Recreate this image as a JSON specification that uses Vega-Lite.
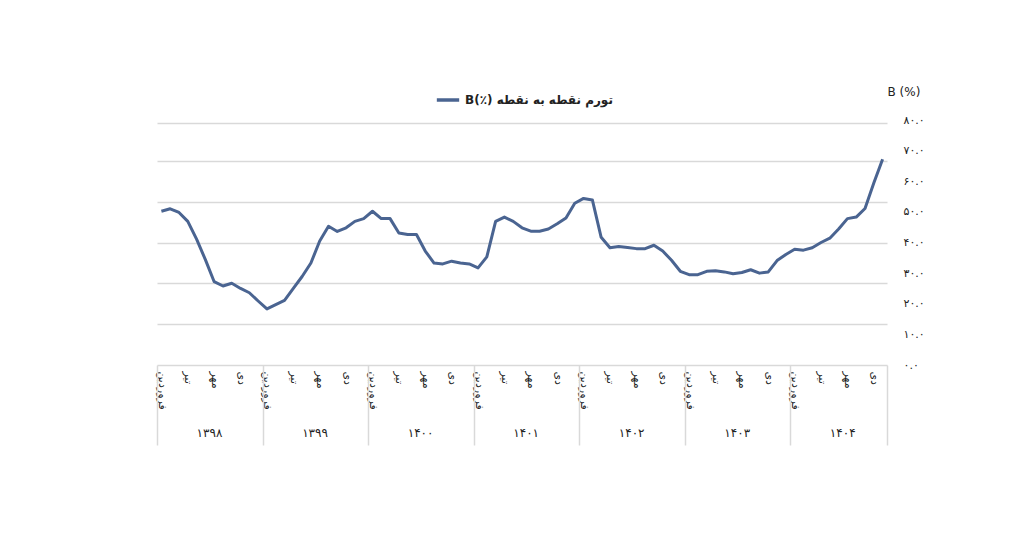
{
"$schema":"https://vega.github.io/schema/vega-lite/v6.json",
"width":730,"height":245,"autosize":"none",
"padding":{"left":157,"top":120,"right":137,"bottom":176},
"background":"white",
"config":{"view":{"stroke":null},"font":"DejaVu Sans"},
"data":{"values":[
{"i":0,"v":50.2},{"i":1,"v":51.0},{"i":2,"v":49.8},{"i":3,"v":46.9},{"i":4,"v":41.1},{"i":5,"v":34.4},{"i":6,"v":27.2},{"i":7,"v":25.8},{"i":8,"v":26.7},{"i":9,"v":25.0},{"i":10,"v":23.6},{"i":11,"v":20.9},
{"i":12,"v":18.3},{"i":13,"v":19.7},{"i":14,"v":21.1},{"i":15,"v":25.0},{"i":16,"v":28.9},{"i":17,"v":33.3},{"i":18,"v":40.5},{"i":19,"v":45.3},{"i":20,"v":43.6},{"i":21,"v":44.8},{"i":22,"v":46.9},{"i":23,"v":47.8},
{"i":24,"v":50.2},{"i":25,"v":47.8},{"i":26,"v":47.8},{"i":27,"v":43.1},{"i":28,"v":42.6},{"i":29,"v":42.6},{"i":30,"v":37.2},{"i":31,"v":33.3},{"i":32,"v":33.0},{"i":33,"v":33.9},{"i":34,"v":33.3},{"i":35,"v":33.0},
{"i":36,"v":31.7},{"i":37,"v":35.3},{"i":38,"v":46.9},{"i":39,"v":48.3},{"i":40,"v":46.9},{"i":41,"v":44.8},{"i":42,"v":43.7},{"i":43,"v":43.7},{"i":44,"v":44.4},{"i":45,"v":46.1},{"i":46,"v":48.0},{"i":47,"v":52.8},
{"i":48,"v":54.4},{"i":49,"v":53.9},{"i":50,"v":41.7},{"i":51,"v":38.3},{"i":52,"v":38.7},{"i":53,"v":38.4},{"i":54,"v":38.0},{"i":55,"v":38.0},{"i":56,"v":39.1},{"i":57,"v":37.2},{"i":58,"v":34.2},{"i":59,"v":30.6},
{"i":60,"v":29.5},{"i":61,"v":29.5},{"i":62,"v":30.6},{"i":63,"v":30.8},{"i":64,"v":30.4},{"i":65,"v":29.8},{"i":66,"v":30.2},{"i":67,"v":31.1},{"i":68,"v":30.0},{"i":69,"v":30.4},{"i":70,"v":34.1},{"i":71,"v":36.1},
{"i":72,"v":37.8},{"i":73,"v":37.5},{"i":74,"v":38.3},{"i":75,"v":40.0},{"i":76,"v":41.4},{"i":77,"v":44.4},{"i":78,"v":47.8},{"i":79,"v":48.3},{"i":80,"v":51.1},{"i":81,"v":59.4},{"i":82,"v":67.2}
]},
"layer":[
{"mark":{"type":"line","strokeWidth":3,"strokeJoin":"round"},
 "encoding":{
  "x":{"field":"i","type":"quantitative","scale":{"domain":[-0.5,82.5],"nice":false,"zero":false},
   "axis":{"orient":"bottom","title":null,"grid":false,"ticks":false,"domain":true,"domainColor":"#d9d9d9","domainWidth":1.5,
    "values":[0,3,6,9,12,15,18,21,24,27,30,33,36,39,42,45,48,51,54,57,60,63,66,69,72,75,78,81],
    "labelExpr":"datum.value % 12 == 0 ? 'فروردین' : (datum.value % 12 == 3 ? 'تیر' : (datum.value % 12 == 6 ? 'مهر' : 'دی'))",
    "labelAngle":90,"labelAlign":"left","labelBaseline":"middle","labelPadding":6,"labelFontSize":11,"labelColor":"#222","labelOverlap":false,"labelFlush":false}},
  "y":{"field":"v","type":"quantitative","scale":{"domain":[0,80],"nice":false},
   "axis":{"orient":"right","title":"B (%)","titleAngle":0,"titleX":0,"titleY":-22,"titleAlign":"left","titleFontWeight":"normal","titleFontSize":12,"titleColor":"#222",
    "values":[0,10,20,30,40,50,60,70,80],"grid":false,"ticks":false,"domain":false,"labelPadding":16,"labelFontSize":11,"labelColor":"#222",
    "labelExpr":"replace(replace(replace(replace(replace(replace(replace(replace(replace(replace(format(datum.value,'.1f'),/0/g,'۰'),/1/g,'۱'),/2/g,'۲'),/3/g,'۳'),/4/g,'۴'),/5/g,'۵'),/6/g,'۶'),/7/g,'۷'),/8/g,'۸'),/9/g,'۹')"}},
  "color":{"datum":"B(٪) تورم نقطه به نقطه","type":"nominal","scale":{"range":["#4a6491"]},
   "legend":{"title":null,"orient":"none","legendX":278,"legendY":-33,"symbolType":"stroke","symbolStrokeWidth":3.5,"symbolSize":500,"labelFontSize":12,"labelFontWeight":"bold","labelColor":"#222","labelLimit":400}}
 }},
{"mark":{"type":"line","strokeOpacity":0},
 "encoding":{
  "x":{"field":"i","type":"quantitative",
   "axis":{"orient":"bottom","title":null,"grid":false,"domain":false,"ticks":true,"tickSize":80,"tickColor":"#d9d9d9","tickWidth":1.5,
    "values":[-0.5,11.5,23.5,35.5,47.5,59.5,71.5,82.5],
    "labelExpr":"datum.value > 80 ? '' : ['۱۳۹۸','۱۳۹۹','۱۴۰۰','۱۴۰۱','۱۴۰۲','۱۴۰۳','۱۴۰۴'][floor((datum.value+0.5)/12)]",
    "labelOffset":52,"labelAlign":"center","labelPadding":-18,"labelFontSize":12,"labelColor":"#222","labelOverlap":false,"labelFlush":false,"labelBound":false}},
  "y":{"field":"v","type":"quantitative",
   "axis":{"orient":"left","title":null,"labels":false,"ticks":false,"domain":false,"grid":true,"gridColor":"#d9d9d9","gridWidth":1.5,
    "values":[13.3,26.7,40,53.3,66.7,79]}}
 }}
],
"resolve":{"axis":{"x":"independent","y":"independent"}}
}
